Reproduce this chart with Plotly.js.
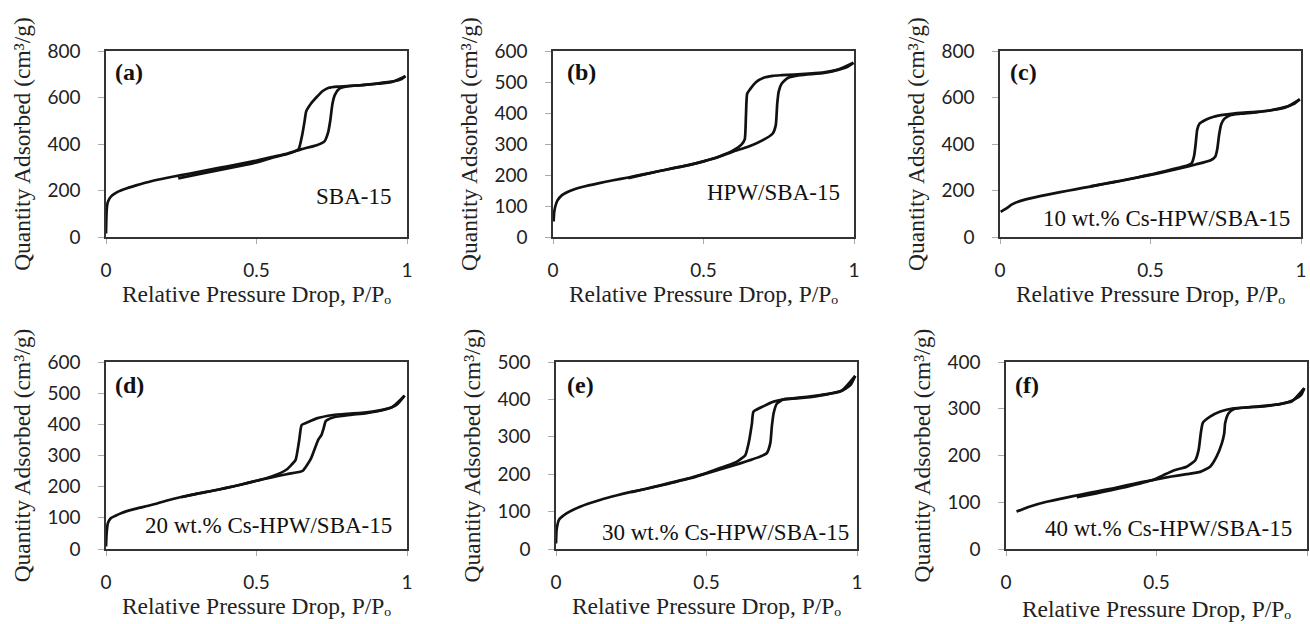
<!DOCTYPE html>
<html>
<head>
<meta charset="utf-8">
<script src="https://cdn.plot.ly/plotly-3.0.1.min.js"></script>
<style>html,body{margin:0;padding:0;background:#fff;}#chart{width:1310px;height:624px;}</style>
</head>
<body>
<div id="chart"></div>
<script>
// ---------- Data ----------
const xTickVals = [0, 0.5, 1];
const xTickText = ['0', '0.5', '1'];

// (a) SBA-15
const aAdsX = [0.0, 0.002, 0.005, 0.01, 0.02, 0.04, 0.07, 0.1, 0.15, 0.2, 0.25, 0.3, 0.35, 0.4, 0.45, 0.5, 0.55, 0.6, 0.65, 0.7, 0.725, 0.738, 0.745, 0.752, 0.76, 0.775, 0.8, 0.85, 0.9, 0.95, 0.98, 0.995];
const aAdsY = [15, 110, 145, 162, 178, 195, 210, 222, 240, 254, 266, 278, 291, 303, 316, 329, 344, 358, 378, 395, 410, 450, 500, 570, 610, 638, 648, 653, 660, 668, 678, 692];
const aDesX = [0.995, 0.95, 0.9, 0.85, 0.8, 0.77, 0.74, 0.72, 0.7, 0.68, 0.665, 0.66, 0.652, 0.64, 0.62, 0.6, 0.55, 0.5, 0.45, 0.4, 0.35, 0.3, 0.24];
const aDesY = [692, 667, 659, 653, 649, 647, 642, 628, 602, 572, 540, 500, 440, 378, 364, 356, 340, 321, 307, 294, 281, 268, 252];

// (b) HPW/SBA-15
const bAdsX = [0.002, 0.004, 0.008, 0.015, 0.03, 0.06, 0.1, 0.15, 0.2, 0.25, 0.3, 0.35, 0.4, 0.45, 0.5, 0.55, 0.6, 0.65, 0.7, 0.73, 0.74, 0.745, 0.75, 0.76, 0.78, 0.82, 0.9, 0.95, 0.98, 0.998];
const bAdsY = [50, 80, 100, 118, 135, 150, 162, 173, 183, 192, 202, 212, 222, 232, 244, 258, 276, 292, 314, 334, 360, 430, 470, 495, 513, 522, 529, 540, 550, 562];
const bDesX = [0.998, 0.95, 0.9, 0.85, 0.8, 0.76, 0.73, 0.7, 0.675, 0.655, 0.645, 0.641, 0.637, 0.626, 0.6, 0.55, 0.5, 0.45, 0.4, 0.35, 0.3, 0.25];
const bDesY = [562, 541, 531, 527, 524, 522, 520, 514, 500, 477, 462, 390, 315, 298, 280, 259, 244, 232, 222, 212, 201, 190];

// (c) 10 wt.% Cs-HPW/SBA-15
const cAdsX = [0.002, 0.02, 0.04, 0.06, 0.1, 0.15, 0.2, 0.25, 0.3, 0.35, 0.4, 0.45, 0.5, 0.55, 0.6, 0.65, 0.7, 0.715, 0.722, 0.728, 0.735, 0.745, 0.765, 0.8, 0.85, 0.9, 0.95, 0.98, 0.996];
const cAdsY = [108, 122, 140, 152, 166, 180, 193, 205, 217, 229, 241, 254, 267, 281, 296, 312, 330, 345, 380, 440, 485, 508, 524, 530, 536, 545, 560, 575, 592];
const cDesX = [0.996, 0.95, 0.9, 0.85, 0.8, 0.775, 0.74, 0.71, 0.682, 0.662, 0.655, 0.65, 0.645, 0.637, 0.62, 0.6, 0.55, 0.5, 0.45, 0.4, 0.35, 0.3];
const cDesY = [592, 558, 545, 538, 534, 531, 525, 517, 503, 486, 460, 400, 350, 318, 306, 300, 284, 268, 255, 242, 230, 218];

// (d) 20 wt.% Cs-HPW/SBA-15
const dAdsX = [0.0, 0.002, 0.006, 0.015, 0.03, 0.05, 0.09, 0.15, 0.2, 0.25, 0.3, 0.35, 0.4, 0.45, 0.5, 0.55, 0.6, 0.645, 0.655, 0.68, 0.705, 0.716, 0.723, 0.73, 0.754, 0.81, 0.865, 0.92, 0.965, 0.992];
const dAdsY = [8, 50, 82, 98, 106, 115, 127, 141, 155, 167, 177, 186, 196, 207, 219, 230, 240, 248, 252, 288, 350, 366, 387, 410, 422, 430, 436, 446, 462, 492];
const dDesX = [0.992, 0.95, 0.9, 0.85, 0.8, 0.754, 0.7, 0.666, 0.65, 0.642, 0.63, 0.616, 0.6, 0.566, 0.53, 0.5, 0.45, 0.4, 0.35, 0.3, 0.25];
const dDesY = [492, 455, 443, 437, 434, 430, 419, 405, 398, 350, 286, 270, 255, 238, 226, 219, 207, 196, 186, 177, 166];

// (e) 30 wt.% Cs-HPW/SBA-15
const eAdsX = [0.0, 0.002, 0.01, 0.035, 0.08, 0.146, 0.2, 0.246, 0.3, 0.368, 0.4, 0.45, 0.5, 0.55, 0.612, 0.65, 0.678, 0.7, 0.712, 0.717, 0.723, 0.734, 0.756, 0.834, 0.889, 0.945, 0.978, 0.994];
const eAdsY = [15, 51, 78, 95, 113, 131, 143, 152, 161, 173, 180, 190, 202, 214, 229, 239, 247, 256, 283, 327, 363, 389, 400, 405, 412, 421, 438, 463];
const eDesX = [0.994, 0.95, 0.9, 0.834, 0.756, 0.723, 0.69, 0.656, 0.651, 0.64, 0.629, 0.6, 0.557, 0.5, 0.45, 0.4, 0.35, 0.3, 0.25];
const eDesY = [463, 424, 414, 407, 400, 394, 382, 367, 336, 283, 251, 233, 220, 203, 191, 181, 171, 161, 152];

// (f) 40 wt.% Cs-HPW/SBA-15
const fAdsX = [0.035, 0.08, 0.135, 0.2, 0.246, 0.3, 0.357, 0.4, 0.45, 0.49, 0.55, 0.6, 0.645, 0.678, 0.7, 0.717, 0.725, 0.728, 0.739, 0.756, 0.8, 0.856, 0.911, 0.956, 0.98, 0.991];
const fAdsY = [80, 91, 101, 110, 116, 123, 130, 136, 143, 148, 155, 160, 165, 176, 198, 226, 247, 269, 290, 299, 303, 306, 310, 319, 329, 344];
const fDesX = [0.991, 0.95, 0.9, 0.856, 0.8, 0.756, 0.712, 0.678, 0.654, 0.647, 0.64, 0.629, 0.6, 0.557, 0.523, 0.49, 0.45, 0.4, 0.35, 0.3, 0.235];
const fDesY = [344, 316, 309, 305, 303, 301, 294, 283, 270, 247, 212, 190, 176, 168, 158, 148, 141, 133, 126, 119, 111];

const panelLabels = ['(a)', '(b)', '(c)', '(d)', '(e)', '(f)'];
const sampleNames = ['SBA-15', 'HPW/SBA-15', '10 wt.% Cs-HPW/SBA-15', '20 wt.% Cs-HPW/SBA-15', '30 wt.% Cs-HPW/SBA-15', '40 wt.% Cs-HPW/SBA-15'];
const yMax = [800, 600, 800, 600, 500, 400];
const yStep = [200, 100, 200, 100, 100, 100];

const xTitle = 'Relative Pressure Drop, P/P\u2092';
const yTitle = 'Quantity Adsorbed (cm³/g)';

// ---------- Layout ----------
const W = 1310, H = 624;
const series = [
  [aAdsX, aAdsY, aDesX, aDesY],
  [bAdsX, bAdsY, bDesX, bDesY],
  [cAdsX, cAdsY, cDesX, cDesY],
  [dAdsX, dAdsY, dDesX, dDesY],
  [eAdsX, eAdsY, eDesX, eDesY],
  [fAdsX, fAdsY, fDesX, fDesY]
];
// plot-area pixel boxes [left, right, top, bottom]
const boxes = [
  [106, 407, 51, 237], [553, 854, 51, 237], [1000, 1301, 51, 237],
  [106, 407, 362, 549], [556, 857, 362, 549], [1006, 1307, 362, 549]
];
const labPos = [[0.023, 0.887], [0.04, 0.887], [0.027, 0.887], [0.023, 0.877], [0.03, 0.877], [0.023, 0.877]];
const namePos = [[0.953, 0.22], [0.96, 0.237], [0.97, 0.10], [0.957, 0.128], [0.98, 0.086], [0.957, 0.112]];
const xTitleStand = [4, 4, 4, 4, 4, 8];

const serif = 'Liberation Serif, Times New Roman, serif';
const sans = 'Lato, Open Sans, sans-serif';
const lineStyle = {color: '#111', width: 2.7, shape: 'spline', smoothing: 0.5};

const traces = [];
const layout = {
  width: W, height: H,
  margin: {l: 0, r: 0, t: 0, b: 0},
  paper_bgcolor: '#fff', plot_bgcolor: '#fff',
  showlegend: false,
  annotations: []
};

series.forEach((s, i) => {
  const n = i + 1;
  const xa = 'x' + (n === 1 ? '' : n), ya = 'y' + (n === 1 ? '' : n);
  const xk = 'xaxis' + (n === 1 ? '' : n), yk = 'yaxis' + (n === 1 ? '' : n);
  traces.push({x: s[0], y: s[1], xaxis: xa, yaxis: ya, mode: 'lines', line: lineStyle, name: 'Adsorption', hoverinfo: 'x+y'});
  traces.push({x: s[2], y: s[3], xaxis: xa, yaxis: ya, mode: 'lines', line: lineStyle, name: 'Desorption', hoverinfo: 'x+y'});
  const b = boxes[i];
  layout[xk] = {
    domain: [b[0] / W, b[1] / W], anchor: ya,
    range: [0, 1], tickvals: xTickVals, ticktext: xTickText,
    showline: true, mirror: true, linecolor: '#333', linewidth: 1.6,
    ticks: 'outside', ticklen: 5, tickcolor: '#aaa', tickwidth: 1,
    showgrid: false, zeroline: false,
    tickfont: {family: sans, size: 19, color: '#222'},
    ticklabelstandoff: 11,
    title: {text: xTitle, font: {family: serif, size: 23.5, color: '#222'}, standoff: xTitleStand[i]}
  };
  layout[yk] = {
    domain: [1 - b[3] / H, 1 - b[2] / H], anchor: xa,
    range: [0, yMax[i]], dtick: yStep[i], tick0: 0,
    showline: true, mirror: true, linecolor: '#333', linewidth: 1.6,
    ticks: 'outside', ticklen: 6, tickcolor: '#aaa', tickwidth: 1,
    showgrid: false, zeroline: false,
    tickfont: {family: sans, size: 19, color: '#222'},
    ticklabelstandoff: 14,
    title: {text: yTitle, font: {family: serif, size: 23.5, color: '#222'}, standoff: 10}
  };
  layout.annotations.push({
    text: '<b>' + panelLabels[i] + '</b>', xref: xa + ' domain', yref: ya + ' domain',
    x: labPos[i][0], y: labPos[i][1], xanchor: 'left', yanchor: 'middle', showarrow: false,
    font: {family: serif, size: 24, color: '#111'}
  });
  layout.annotations.push({
    text: sampleNames[i], xref: xa + ' domain', yref: ya + ' domain',
    x: namePos[i][0], y: namePos[i][1], xanchor: 'right', yanchor: 'middle', showarrow: false,
    font: {family: serif, size: 23, color: '#111'}
  });
});

Plotly.newPlot('chart', traces, layout, {displayModeBar: false, staticPlot: true});
</script>
</body>
</html>
